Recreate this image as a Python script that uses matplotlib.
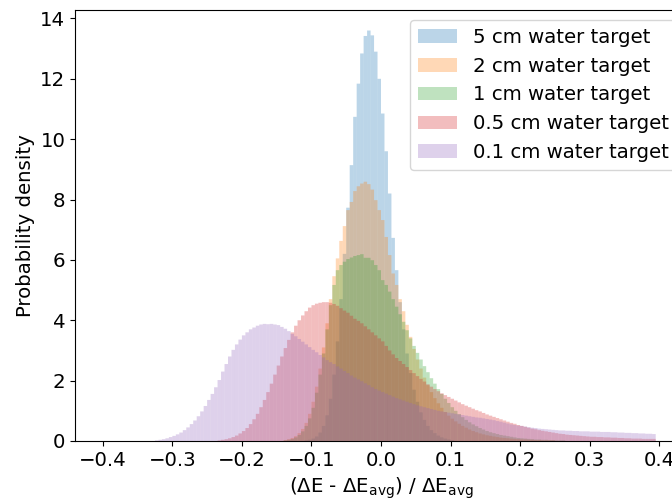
import matplotlib
matplotlib.use("Agg")
import matplotlib.pyplot as plt
import numpy as np

# common binning: 0.005 wide bins from -0.4 to 0.4
edges = np.linspace(-0.4, 0.4, 161)

labels = ["5 cm water target", "2 cm water target", "1 cm water target",
          "0.5 cm water target", "0.1 cm water target"]

# first bin (left edge) of each series, then densities bin by bin
start_5cm = -0.110
dens_5cm = [0.02, 0.04, 0.08, 0.15, 0.28, 0.5, 0.85, 1.4, 2.2, 3.3, 4.7, 6.2,
            7.73, 9.14, 10.74, 11.84, 12.84, 13.42, 13.6, 13.44, 12.9, 12.0,
            10.85, 9.6, 8.2, 6.73, 5.66, 4.6, 3.7, 2.9, 2.25, 1.7, 1.3, 0.95,
            0.7, 0.5, 0.36, 0.26, 0.18, 0.12, 0.08, 0.05, 0.03]

start_2cm = -0.140
dens_2cm = [0.03, 0.06, 0.1, 0.16, 0.26, 0.4, 0.6, 0.9, 1.3, 1.8, 2.4, 3.1,
            3.9, 4.7, 5.46, 6.05, 6.63, 7.12, 7.65, 7.92, 8.28, 8.44, 8.53,
            8.59, 8.51, 8.33, 7.98, 7.65, 7.32, 6.76, 6.16, 5.55, 5.17, 4.7,
            4.3, 3.85, 3.45, 3.05, 2.7, 2.4, 2.1, 1.85, 1.62, 1.42, 1.25, 1.1,
            0.96, 0.84, 0.74, 0.65, 0.57, 0.5, 0.44, 0.38, 0.33, 0.29, 0.25,
            0.22, 0.19, 0.17, 0.15, 0.13, 0.11, 0.1, 0.09, 0.08, 0.07, 0.06,
            0.05, 0.05, 0.04, 0.04, 0.03, 0.03, 0.02, 0.02, 0.02, 0.02]

start_1cm = -0.140
dens_1cm = [0.02, 0.04, 0.07, 0.12, 0.2, 0.32, 0.5, 0.75, 1.1, 1.6, 2.2, 2.9,
            3.7, 4.5, 5.17, 5.66, 5.83, 5.94, 6.03, 6.08, 6.13, 6.16, 6.19,
            6.07, 6.07, 5.99, 5.83, 5.66, 5.33, 5.17, 4.95, 4.7, 4.45, 4.2,
            3.95, 3.67, 3.4, 3.15, 2.92, 2.7, 2.48, 2.28, 2.08, 1.9, 1.72,
            1.56, 1.4, 1.26, 1.12, 1.0, 0.89, 0.79, 0.7, 0.62, 0.55, 0.49,
            0.43, 0.38, 0.33, 0.29, 0.26, 0.23, 0.2, 0.18, 0.16, 0.14, 0.12,
            0.1, 0.09, 0.08, 0.07, 0.06, 0.05, 0.05, 0.04, 0.04, 0.03, 0.03,
            0.02, 0.02, 0.02]

start_05cm = -0.235
dens_05cm = [0.02, 0.04, 0.06, 0.09, 0.13, 0.18, 0.25, 0.33, 0.43, 0.56, 0.72,
             0.9, 1.12, 1.36, 1.62, 1.9, 2.2, 2.5, 2.8, 3.08, 3.35, 3.6, 3.82,
             4.0, 4.16, 4.3, 4.42, 4.5, 4.55, 4.58, 4.6, 4.6, 4.58, 4.54,
             4.48, 4.4, 4.32, 4.25, 4.15, 4.05, 3.98, 3.9, 3.8, 3.7, 3.6, 3.5,
             3.4, 3.3, 3.15, 3.0, 2.87, 2.75, 2.65, 2.55, 2.45, 2.35, 2.25,
             2.15, 2.06, 1.97, 1.88, 1.8, 1.72, 1.65, 1.58, 1.52, 1.46, 1.4,
             1.34, 1.28, 1.22, 1.17, 1.12, 1.07, 1.02, 0.98, 0.93, 0.88, 0.84,
             0.8, 0.76, 0.72, 0.68, 0.64, 0.6, 0.57, 0.53, 0.5, 0.47, 0.44,
             0.41, 0.39, 0.36, 0.34, 0.32, 0.3, 0.28, 0.26, 0.24, 0.23, 0.21,
             0.2, 0.19, 0.18, 0.17, 0.16, 0.15, 0.14, 0.14, 0.13, 0.13, 0.12,
             0.12, 0.11, 0.11, 0.1, 0.1, 0.09, 0.09, 0.08, 0.08, 0.08, 0.07,
             0.07, 0.07, 0.07]

start_01cm = -0.325
dens_01cm = [0.02, 0.04, 0.06, 0.09, 0.13, 0.17, 0.22, 0.28, 0.36, 0.45, 0.56,
             0.68, 0.82, 0.98, 1.16, 1.36, 1.56, 1.78, 2.02, 2.3, 2.55, 2.8,
             3.02, 3.2, 3.36, 3.5, 3.6, 3.7, 3.76, 3.82, 3.86, 3.88, 3.87,
             3.88, 3.86, 3.84, 3.78, 3.72, 3.64, 3.55, 3.47, 3.38, 3.29, 3.2,
             3.11, 3.02, 2.94, 2.85, 2.77, 2.68, 2.61, 2.55, 2.47, 2.4, 2.32,
             2.25, 2.17, 2.1, 2.04, 1.98, 1.91, 1.85, 1.78, 1.72, 1.67, 1.62,
             1.57, 1.52, 1.47, 1.42, 1.38, 1.34, 1.3, 1.26, 1.22, 1.18, 1.15,
             1.12, 1.09, 1.06, 1.03, 1.0, 0.98, 0.96, 0.94, 0.92, 0.9, 0.88,
             0.86, 0.84, 0.82, 0.8, 0.78, 0.77, 0.75, 0.73, 0.71, 0.69, 0.66,
             0.64, 0.61, 0.58, 0.55, 0.53, 0.51, 0.5, 0.48, 0.46, 0.44, 0.43,
             0.41, 0.4, 0.39, 0.38, 0.37, 0.36, 0.35, 0.35, 0.34, 0.34, 0.33,
             0.33, 0.32, 0.32, 0.32, 0.31, 0.31, 0.31, 0.3, 0.3, 0.3, 0.29,
             0.29, 0.28, 0.28, 0.27, 0.27, 0.26, 0.26, 0.25, 0.25, 0.24, 0.24,
             0.23]

series = [(start_5cm, dens_5cm), (start_2cm, dens_2cm), (start_1cm, dens_1cm),
          (start_05cm, dens_05cm), (start_01cm, dens_01cm)]

plt.rcParams['font.size'] = 14.2

fig = plt.figure(figsize=(6.72, 5), dpi=100)
# the original figure is cut off at the right, so the axes run past the edge
ax = fig.add_axes([75 / 672, 59 / 500, 612 / 672, 431 / 500])

centers = 0.5 * (edges[:-1] + edges[1:])
for (start, dens), label in zip(series, labels):
    weights = np.zeros(len(centers))
    i0 = int(round((start - edges[0]) / 0.005))
    weights[i0:i0 + len(dens)] = dens
    ax.hist(centers, bins=edges, weights=weights, alpha=0.3, label=label,
            snap=False)

ax.set_xlabel(r'($\Delta$E - $\Delta$E$_{\rm avg}$) / $\Delta$E$_{\rm avg}$')
ax.set_ylabel('Probability density')
ax.legend(loc='upper right')

fig.savefig('out.png', dpi=100)
